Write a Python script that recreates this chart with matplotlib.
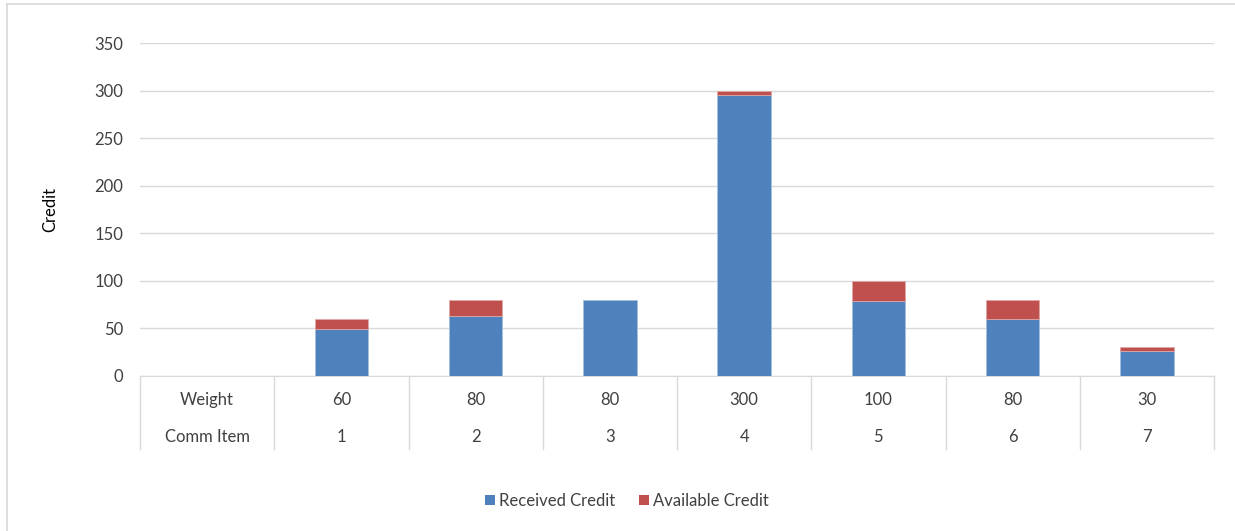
import matplotlib.pyplot as plt
import numpy as np
from matplotlib.lines import Line2D
from matplotlib.patches import Patch

plt.rcParams["font.family"] = ["Lato", "DejaVu Sans"]

# Category table below the bars: header column first, then items 1-7
row_headers = ["Weight", "Comm Item"]
comm_items = ["1", "2", "3", "4", "5", "6", "7"]
weights = [60, 80, 80, 300, 100, 80, 30]
received = [49, 63, 80, 295, 79, 60, 26]
available = [11, 17, 0, 5, 21, 20, 4]

BLUE = "#4F81BD"
RED = "#C0504D"
GRID = "#D9D9D9"
TEXT = "#404040"
FS = 12

W, H = 1235, 531
fig = plt.figure(figsize=(W / 100, H / 100), dpi=100)
ax = fig.add_axes([140 / W, (H - 376) / H, (1214 - 140) / W, (376 - 43) / H])

n_cols = len(comm_items) + 1
x = np.arange(1, n_cols) + 0.5
ax.bar(x, received, width=0.4, color=BLUE, edgecolor="#A7BFDE", linewidth=0.6, zorder=3)
red_edges = ["#DFA7A6" if v > 0 else "none" for v in available]
ax.bar(x, available, width=0.4, bottom=received, color=RED, edgecolor=red_edges,
       linewidth=0.6, zorder=3)

ax.set_xlim(0, n_cols)
ax.set_ylim(0, 350)
ax.set_yticks(range(0, 351, 50))
ax.tick_params(axis="y", length=0, pad=12, labelsize=FS, labelcolor=TEXT)
ax.set_xticks([])
ax.grid(axis="y", color=GRID, linewidth=1, zorder=0)
for side in ("top", "right", "left"):
    ax.spines[side].set_visible(False)
ax.spines["bottom"].set_color(GRID)
ax.set_ylabel("Credit", fontsize=FS, color="black", labelpad=26)

# two-row category table under the axis
tr = ax.get_xaxis_transform()
row_y = [-24 / 333, -61 / 333]
for yy, header in zip(row_y, row_headers):
    ax.text(0.5, yy, header, transform=tr, ha="center", va="center",
            fontsize=FS, color=TEXT)
for xi, wt, item in zip(x, weights, comm_items):
    ax.text(xi, row_y[0], str(wt), transform=tr, ha="center", va="center",
            fontsize=FS, color=TEXT)
    ax.text(xi, row_y[1], item, transform=tr, ha="center", va="center",
            fontsize=FS, color=TEXT)
for xb in range(n_cols + 1):
    ax.add_line(Line2D([xb, xb], [0, -73 / 333], transform=tr, color=GRID,
                       linewidth=1, clip_on=False))

handles = [Patch(facecolor=BLUE), Patch(facecolor=RED)]
fig.legend(handles, ["Received Credit", "Available Credit"], loc="center",
           bbox_to_anchor=(627 / W, 1 - 501 / H), ncol=2, frameon=False,
           fontsize=FS, handlelength=0.6, handleheight=0.6, handletextpad=0.25,
           columnspacing=1.4, labelcolor=TEXT)

# chart area border
fig.add_artist(Line2D([7 / W, 7 / W], [0, 1 - 4 / H], color=GRID, linewidth=1.2))
fig.add_artist(Line2D([7 / W, 1], [1 - 4 / H, 1 - 4 / H], color=GRID, linewidth=1.2))

fig.savefig("out.png", dpi=100, facecolor="white")
